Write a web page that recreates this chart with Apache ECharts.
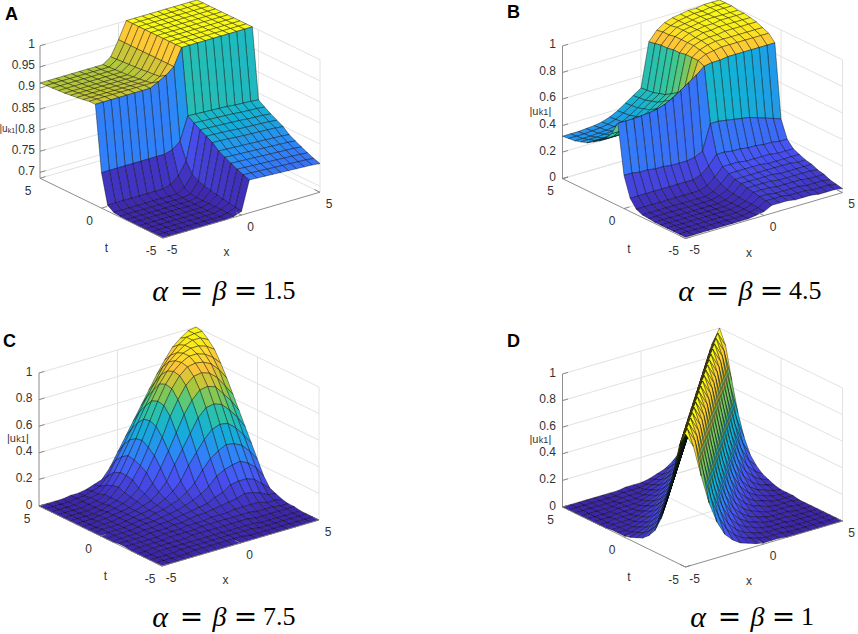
<!DOCTYPE html>
<html>
<head>
<meta charset="utf-8">
<style>html,body{margin:0;padding:0;background:#fff;}#chart{width:858px;height:634px;}</style>
<script src="https://cdn.jsdelivr.net/npm/echarts@6.0.0/dist/echarts.min.js"></script>
</head>
<body>
<div id="chart"></div>
<script>
// ---------------- data ----------------
const xs = [-5,-4.5,-4,-3.5,-3,-2.5,-2,-1.5,-1,-0.5,0,0.5,1,1.5,2,2.5,3,3.5,4,4.5,5];
const ts = [-5,-4.5,-4,-3.5,-3,-2.5,-2,-1.5,-1,-0.5,0,0.5,1,1.5,2,2.5,3,3.5,4,4.5,5];

// rows: t = -5 ... 5, columns: x = -5 ... 5
const zA = [
[.686,.686,.686,.686,.686,.686,.686,.686,.686,.688,.695,.764,.763,.762,.761,.760,.759,.758,.757,.756,.754],
[.686,.686,.686,.686,.686,.686,.686,.686,.686,.689,.697,.769,.768,.767,.766,.765,.764,.763,.762,.761,.759],
[.686,.686,.686,.686,.686,.686,.686,.686,.686,.690,.700,.775,.774,.773,.772,.771,.770,.769,.768,.767,.765],
[.686,.686,.686,.686,.686,.686,.686,.686,.686,.690,.702,.782,.781,.780,.779,.778,.777,.776,.775,.774,.772],
[.686,.686,.686,.686,.686,.686,.686,.686,.686,.690,.705,.789,.788,.787,.786,.785,.784,.783,.782,.781,.779],
[.687,.687,.687,.687,.687,.687,.687,.687,.687,.690,.708,.797,.796,.795,.794,.793,.792,.791,.790,.789,.787],
[.687,.687,.687,.687,.687,.687,.687,.687,.687,.690,.712,.810,.809,.808,.806,.805,.804,.803,.802,.801,.799],
[.688,.688,.688,.688,.688,.688,.688,.688,.688,.692,.717,.818,.817,.816,.815,.813,.812,.811,.810,.809,.807],
[.690,.690,.690,.690,.690,.690,.690,.690,.690,.700,.725,.826,.825,.824,.823,.822,.821,.819,.818,.817,.815],
[.700,.700,.700,.700,.700,.700,.700,.700,.705,.720,.750,.835,.834,.833,.832,.831,.830,.828,.827,.826,.824],
[.770,.770,.770,.770,.770,.770,.770,.770,.770,.775,.790,.845,.844,.843,.842,.841,.840,.838,.837,.836,.834],
[.925,.925,.925,.925,.925,.925,.925,.925,.935,.945,.960,1,1,1,1,1,1,1,1,1,1],
[.925,.925,.925,.925,.925,.925,.925,.925,.925,.935,.960,1,1,1,1,1,1,1,1,1,1],
[.922,.922,.922,.922,.922,.922,.922,.922,.922,.933,.960,1,1,1,1,1,1,1,1,1,1],
[.920,.920,.920,.920,.920,.920,.920,.920,.920,.932,.960,1,1,1,1,1,1,1,1,1,1],
[.918,.918,.918,.918,.918,.918,.918,.918,.918,.930,.960,1,1,1,1,1,1,1,1,1,1],
[.916,.916,.916,.916,.916,.916,.916,.916,.916,.929,.960,1,1,1,1,1,1,1,1,1,1],
[.915,.915,.915,.915,.915,.915,.915,.915,.915,.928,.960,1,1,1,1,1,1,1,1,1,1],
[.914,.914,.914,.914,.914,.914,.914,.914,.914,.927,.960,1,1,1,1,1,1,1,1,1,1],
[.913,.913,.913,.913,.913,.913,.913,.913,.913,.926,.960,1,1,1,1,1,1,1,1,1,1],
[.912,.912,.912,.912,.912,.912,.912,.912,.912,.925,.960,1,1,1,1,1,1,1,1,1,1]
];

const zB = [
[.01,.01,.01,.01,.01,.01,.01,.01,.01,.02,.03,.06,.06,.06,.05,.05,.05,.04,.04,.04,.03],
[.01,.01,.01,.01,.01,.01,.01,.01,.01,.02,.035,.07,.07,.07,.06,.06,.06,.05,.05,.05,.04],
[.01,.01,.01,.01,.01,.01,.01,.01,.01,.02,.04,.08,.08,.07,.07,.07,.07,.06,.06,.06,.05],
[.01,.01,.01,.01,.01,.01,.01,.01,.01,.02,.04,.09,.09,.09,.08,.08,.08,.08,.07,.07,.07],
[.01,.01,.01,.01,.01,.01,.01,.01,.01,.02,.045,.10,.10,.10,.10,.09,.09,.09,.09,.09,.08],
[.01,.01,.01,.01,.01,.01,.01,.01,.01,.02,.05,.11,.11,.11,.11,.11,.10,.10,.10,.10,.10],
[.015,.015,.015,.015,.015,.015,.015,.015,.015,.03,.06,.12,.12,.12,.12,.12,.12,.12,.12,.11,.11],
[.02,.02,.02,.02,.02,.02,.02,.02,.02,.04,.08,.14,.14,.14,.14,.14,.13,.13,.13,.13,.13],
[.04,.04,.04,.04,.04,.04,.04,.04,.04,.06,.11,.17,.17,.17,.16,.16,.16,.16,.15,.15,.15],
[.10,.10,.10,.10,.10,.10,.10,.10,.10,.12,.17,.24,.24,.23,.23,.22,.22,.21,.21,.20,.20],
[.25,.25,.24,.24,.23,.23,.22,.22,.22,.23,.26,.45,.45,.44,.43,.42,.41,.39,.37,.35,.33],
[.62,.62,.62,.625,.63,.64,.66,.69,.73,.77,.81,.86,.87,.87,.88,.88,.88,.88,.88,.88,.88],
[.52,.52,.52,.525,.53,.54,.56,.59,.63,.67,.71,.88,.91,.92,.93,.93,.93,.93,.93,.93,.93],
[.46,.46,.46,.465,.47,.48,.50,.53,.57,.61,.65,.88,.92,.94,.95,.95,.95,.95,.95,.95,.95],
[.42,.42,.42,.425,.43,.44,.46,.49,.53,.57,.61,.88,.93,.95,.96,.96,.97,.97,.97,.97,.97],
[.39,.39,.39,.395,.40,.41,.43,.46,.50,.54,.58,.87,.93,.95,.97,.97,.98,.98,.98,.98,.98],
[.36,.36,.36,.365,.37,.38,.40,.43,.47,.51,.55,.87,.93,.96,.97,.98,.98,.99,.99,.99,.99],
[.345,.345,.345,.35,.355,.365,.385,.415,.455,.495,.535,.86,.93,.96,.97,.98,.99,.99,.99,.99,.99],
[.33,.33,.33,.335,.34,.35,.37,.40,.44,.48,.52,.86,.92,.96,.97,.98,.99,.99,1,1,1],
[.325,.325,.325,.33,.335,.345,.365,.395,.435,.475,.515,.85,.92,.95,.97,.98,.99,.99,1,1,1],
[.32,.32,.32,.325,.33,.34,.36,.39,.43,.47,.51,.84,.91,.95,.97,.98,.99,.99,1,1,1]
];

const zC = [
[0,0,0,0,0,0,0,0,0,0,0,0,0,0,0,0,0,0,0,0,0],
[0,0,0,0,0,.01,.01,.01,.01,.01,.01,.01,0,0,0,0,0,0,0,0,0],
[0,0,0,0,.01,.01,.01,.01,.01,.01,.01,.01,.01,.01,0,0,0,0,0,0,0],
[0,0,.01,.01,.01,.01,.01,.01,.01,.01,.01,.01,.01,.01,.01,0,0,0,0,0,0],
[0,0,.01,.01,.01,.01,.01,.02,.02,.02,.02,.02,.02,.02,.02,.01,.01,.01,.01,.01,.01],
[0,.01,.01,.01,.01,.02,.02,.02,.02,.03,.03,.03,.03,.03,.03,.03,.02,.02,.02,.01,.01],
[.01,.01,.01,.01,.01,.02,.02,.02,.03,.03,.03,.04,.04,.04,.05,.05,.05,.05,.03,.03,.02],
[.01,.01,.01,.01,.02,.02,.02,.03,.03,.04,.05,.05,.06,.07,.08,.09,.11,.10,.08,.05,.04],
[0,.01,.01,.01,.02,.02,.03,.03,.04,.05,.06,.07,.08,.11,.13,.17,.18,.18,.16,.11,.06],
[0,.01,.01,.01,.02,.03,.03,.04,.05,.06,.08,.10,.13,.17,.23,.26,.28,.29,.26,.21,.13],
[0,.01,.01,.01,.02,.03,.03,.05,.06,.08,.10,.14,.19,.27,.34,.38,.41,.40,.37,.31,.23],
[0,.01,.01,.01,.02,.03,.04,.05,.07,.10,.14,.20,.30,.38,.46,.52,.54,.53,.48,.41,.33],
[0,0,.01,.01,.02,.03,.04,.06,.08,.13,.19,.30,.40,.50,.60,.66,.67,.65,.59,.52,.43],
[0,0,.01,.01,.02,.03,.04,.07,.11,.17,.27,.38,.50,.62,.71,.77,.78,.76,.69,.62,.53],
[0,0,0,.01,.02,.03,.05,.08,.13,.23,.34,.46,.60,.71,.80,.85,.86,.84,.79,.71,.63],
[0,0,0,0,.01,.03,.05,.09,.17,.26,.38,.52,.66,.77,.85,.90,.91,.90,.87,.81,.73],
[0,0,0,0,.01,.02,.05,.11,.18,.28,.41,.54,.67,.78,.86,.91,.94,.94,.92,.88,.82],
[0,0,0,0,.01,.02,.05,.10,.18,.29,.40,.53,.65,.76,.84,.90,.94,.96,.96,.94,.90],
[0,0,0,0,.01,.02,.03,.08,.16,.26,.37,.48,.59,.69,.79,.87,.92,.96,.98,.98,.95],
[0,0,0,0,.01,.01,.03,.05,.11,.21,.31,.41,.52,.62,.71,.81,.88,.94,.98,.99,.99],
[0,0,0,0,.01,.01,.02,.04,.06,.13,.23,.33,.43,.53,.63,.73,.82,.90,.95,.99,1]
];

const zD = [
[1,.89,.65,.43,.27,.16,.1,.06,.04,.02,.01,.01,.01,0,0,0,0,0,0,0,0],
[.89,1,.89,.65,.43,.27,.16,.1,.06,.04,.02,.01,.01,.01,0,0,0,0,0,0,0],
[.65,.89,1,.89,.65,.43,.27,.16,.1,.06,.04,.02,.01,.01,.01,0,0,0,0,0,0],
[.43,.65,.89,1,.89,.65,.43,.27,.16,.1,.06,.04,.02,.01,.01,.01,0,0,0,0,0],
[.27,.43,.65,.89,1,.89,.65,.43,.27,.16,.1,.06,.04,.02,.01,.01,.01,0,0,0,0],
[.16,.27,.43,.65,.89,1,.89,.65,.43,.27,.16,.1,.06,.04,.02,.01,.01,.01,0,0,0],
[.1,.16,.27,.43,.65,.89,1,.89,.65,.43,.27,.16,.1,.06,.04,.02,.01,.01,.01,0,0],
[.06,.1,.16,.27,.43,.65,.89,1,.89,.65,.43,.27,.16,.1,.06,.04,.02,.01,.01,.01,0],
[.04,.06,.1,.16,.27,.43,.65,.89,1,.89,.65,.43,.27,.16,.1,.06,.04,.02,.01,.01,.01],
[.02,.04,.06,.1,.16,.27,.43,.65,.89,1,.89,.65,.43,.27,.16,.1,.06,.04,.02,.01,.01],
[.01,.02,.04,.06,.1,.16,.27,.43,.65,.89,1,.89,.65,.43,.27,.16,.1,.06,.04,.02,.01],
[.01,.01,.02,.04,.06,.1,.16,.27,.43,.65,.89,1,.89,.65,.43,.27,.16,.1,.06,.04,.02],
[.01,.01,.01,.02,.04,.06,.1,.16,.27,.43,.65,.89,1,.89,.65,.43,.27,.16,.1,.06,.04],
[0,.01,.01,.01,.02,.04,.06,.1,.16,.27,.43,.65,.89,1,.89,.65,.43,.27,.16,.1,.06],
[0,0,.01,.01,.01,.02,.04,.06,.1,.16,.27,.43,.65,.89,1,.89,.65,.43,.27,.16,.1],
[0,0,0,.01,.01,.01,.02,.04,.06,.1,.16,.27,.43,.65,.89,1,.89,.65,.43,.27,.16],
[0,0,0,0,.01,.01,.01,.02,.04,.06,.1,.16,.27,.43,.65,.89,1,.89,.65,.43,.27],
[0,0,0,0,0,.01,.01,.01,.02,.04,.06,.1,.16,.27,.43,.65,.89,1,.89,.65,.43],
[0,0,0,0,0,0,.01,.01,.01,.02,.04,.06,.1,.16,.27,.43,.65,.89,1,.89,.65],
[0,0,0,0,0,0,0,.01,.01,.01,.02,.04,.06,.1,.16,.27,.43,.65,.89,1,.89],
[0,0,0,0,0,0,0,0,.01,.01,.01,.02,.04,.06,.1,.16,.27,.43,.65,.89,1]
];

const zTicksA = [0.7,0.75,0.8,0.85,0.9,0.95,1];
const zTicksB = [0,0.2,0.4,0.6,0.8,1];
const zTicksC = [0,0.2,0.4,0.6,0.8,1];
const zTicksD = [0,0.2,0.4,0.6,0.8,1];
const xTicks = [-5,0,5];
const tTicks = [-5,0,5];
const zLimsA = [0.686,1];
const zLimsB = [0,1];
const zLimsC = [0,1];
const zLimsD = [0,1];
const panelLetters = ['A','B','C','D'];
const paramValues = ['1.5','4.5','7.5','1'];
const parula = ['#3e26a8','#4852f4','#2e87f7','#12b1d6','#37c897','#abc739','#fec338','#f9fb15'];

// ---------------- layout & projection (MATLAB default 3-D view) ----------------
const H = 133;              // box height in px
const EX = [15.7, 4.6];     // px per unit of x (right, up)
const ET = [12.3, -6];      // px per unit of (5 - t)
const layout = [
  {ox:40,    oy:178,   fx:148, fy:290.5, lx:5,   ly:13.5, zdx:-5,   zl:{x:-40.5, y:128.2, f1:10, f2:7,   gap:8.3,  sub:2.5, end:15.4}},
  {ox:562.5, oy:178.5, fx:674, fy:290.5, lx:507, ly:12,   zdx:-6.5, zl:{x:-33,   y:110.5, f1:11, f2:9,   gap:9.3,  sub:1,   end:19}},
  {ox:39,    oy:506,   fx:148, fy:616,   lx:3,   ly:341,  zdx:-6.5, zl:{x:-32,   y:438,   f1:11, f2:9,   gap:9.3,  sub:1,   end:19}},
  {ox:562.5, oy:507,   fx:686, fy:616,   lx:507, ly:340.5,zdx:-6.5, zl:{x:-33,   y:439,   f1:11, f2:9,   gap:9.3,  sub:1,   end:19}}
];
const zData = [zA, zB, zC, zD];
const zTicks = [zTicksA, zTicksB, zTicksC, zTicksD];
const zLims = [zLimsA, zLimsB, zLimsC, zLimsD];
const TOPV = 46 + H;

function proj(k, x, t, z) {
  const lim = zLims[k];
  const f = (z - lim[0]) / (lim[1] - lim[0]);
  return [(x + 5) * EX[0] + (5 - t) * ET[0], (x + 5) * EX[1] + (5 - t) * ET[1] + f * H];
}

function buildCells(k) {
  const Z = zData[k];
  const cells = [];
  for (let i = 0; i < ts.length - 1; i++) {
    for (let j = 0; j < xs.length - 1; j++) {
      const depth = 4.6 * (xs[j] + xs[j + 1]) / 2 + 6 * (ts[i] + ts[i + 1]) / 2;
      cells.push({i: i, j: j, d: depth});
    }
  }
  cells.sort((a, b) => b.d - a.d);
  return cells.map(c => [c.i, c.j, Z[c.i][c.j]]);
}

const sans = '"Liberation Sans", Arial, Helvetica, sans-serif';
const tickFont = '12px ' + sans;
const gridCol = '#e2e2e2';
const axisCol = '#808080';

function buildDecor(k) {
  const zmin = zLims[k][0], zmax = zLims[k][1];
  const L = layout[k];
  const back = [], front = [];
  const ln = (arr, pts, c, w) => arr.push({kind: 'line', pts: pts, color: c, width: w});
  zTicks[k].forEach(z => ln(back, [[-5, 5, z], [5, 5, z], [5, -5, z]], gridCol, 1));
  xTicks.forEach(x => { if (x > -5) ln(back, [[x, 5, zmin], [x, 5, zmax]], gridCol, 1); });
  tTicks.forEach(t => { if (t < 5) ln(back, [[5, t, zmin], [5, t, zmax]], gridCol, 1); });
  xTicks.forEach(x => { if (x > -5) ln(back, [[x, -5, zmin], [x, 5, zmin]], gridCol, 1); });
  tTicks.forEach(t => { if (t > -5) ln(back, [[-5, t, zmin], [5, t, zmin]], gridCol, 1); });
  ln(back, [[-5, 5, zmin], [-5, 5, zmax]], axisCol, 0.9);
  zTicks[k].forEach(z => ln(back, [[-5, 5, z], [-4.65, 5, z]], axisCol, 0.9));
  ln(front, [[-5, 5, zmin], [-5, -5, zmin], [5, -5, zmin]], axisCol, 0.9);
  tTicks.forEach(t => ln(front, [[-5, t, zmin], [-4.65, t, zmin]], axisCol, 0.9));
  xTicks.forEach(x => ln(front, [[x, -5, zmin], [x, -4.55, zmin]], axisCol, 0.9));
  const tx = (at, dx, dy, text, align, font) => front.push({kind: 'text', at: at, dx: dx, dy: dy, text: text, align: align, font: font || tickFont});
  zTicks[k].forEach(z => tx([-5, 5, z], L.zdx, -1.5, String(z), 'right'));
  tTicks.forEach(t => tx([-5, t, zmin], -12, 12.5, String(t), 'center'));
  xTicks.forEach(x => tx([x, -5, zmin], 9, 11.5, String(x), 'center'));
  tx([-5, 0, zmin], 5, 40, 't', 'center');
  tx([0, -5, zmin], -15, 37, 'x', 'center');
  // axis title |u_{k1}|
  const Z = L.zl, dyz = Z.y - L.oy;
  tx([-5, 5, zmin], Z.x, dyz, '|u', 'left', Z.f1 + 'px ' + sans);
  tx([-5, 5, zmin], Z.x + Z.gap, dyz + Z.sub, 'k1', 'left', Z.f2 + 'px ' + sans);
  tx([-5, 5, zmin], Z.x + Z.end, dyz, '|', 'left', Z.f1 + 'px ' + sans);
  return {back: back, front: front};
}

function decorSeries(k, list, zz) {
  return {
    type: 'custom', xAxisIndex: k, yAxisIndex: k, z: zz, silent: true, animation: false, clip: false,
    data: list.map((d, i) => [i, 0]),
    renderItem: function (params, api) {
      const d = list[params.dataIndex];
      if (d.kind === 'line') {
        const pts = d.pts.map(p => api.coord(proj(k, p[0], p[1], p[2])));
        return {type: 'polyline', shape: {points: pts}, style: {stroke: d.color, lineWidth: d.width, fill: 'none'}};
      }
      const c = api.coord(proj(k, d.at[0], d.at[1], d.at[2]));
      return {type: 'text', x: c[0] + d.dx, y: c[1] + d.dy,
        style: {text: d.text, fill: '#333', font: d.font, align: d.align, textAlign: d.align, verticalAlign: 'middle', textVerticalAlign: 'middle'}};
    }
  };
}

function surfaceSeries(k) {
  return {
    type: 'custom', xAxisIndex: k, yAxisIndex: k, z: 2, silent: true, animation: false, clip: false,
    dimensions: ['i', 'j', 'z'],
    encode: {x: 0, y: 1},
    data: buildCells(k),
    renderItem: function (params, api) {
      const i = api.value(0), j = api.value(1);
      const Z = zData[k];
      const corners = [[i, j], [i, j + 1], [i + 1, j + 1], [i + 1, j]];
      const pts = corners.map(c => api.coord(proj(k, xs[c[1]], ts[c[0]], Z[c[0]][c[1]])));
      return {type: 'polygon', shape: {points: pts},
        style: {fill: api.visual('color'), stroke: 'rgba(0,0,0,0.8)', lineWidth: 0.5}};
    }
  };
}

const series = [];
const visualMaps = [];
for (let k = 0; k < 4; k++) {
  const dec = buildDecor(k);
  series.push(decorSeries(k, dec.back, 1));
  visualMaps.push({type: 'continuous', show: false, seriesIndex: series.length, dimension: 2,
    min: zLims[k][0], max: zLims[k][1], inRange: {color: parula}});
  series.push(surfaceSeries(k));
  series.push(decorSeries(k, dec.front, 3));
}

const graphics = [];
layout.forEach((L, k) => {
  graphics.push({type: 'text', x: L.lx, y: L.ly, style: {text: panelLetters[k], fill: '#000',
    font: 'bold 18px ' + sans, align: 'left', textAlign: 'left', verticalAlign: 'middle', textVerticalAlign: 'middle'}});
  const serif = '"Liberation Serif", "Times New Roman", serif';
  const parts = [
    {dx: 12, text: 'α', font: 'italic 30px ' + serif, align: 'center'},
    {dx: 43.5, text: '=', font: '28px "DejaVu Serif", serif', align: 'center'},
    {dx: 71.5, text: 'β', font: 'italic 28px ' + serif, align: 'center'},
    {dx: 97.5, text: '=', font: '28px "DejaVu Serif", serif', align: 'center'},
    {dx: 115, text: paramValues[k], font: '26px ' + serif, align: 'left'}
  ];
  parts.forEach(p => graphics.push({type: 'text', x: L.fx + p.dx, y: L.fy,
    style: {text: p.text, fill: '#000', font: p.font, align: p.align, textAlign: p.align, verticalAlign: 'middle', textVerticalAlign: 'middle'}}));
});

const option = {
  animation: false,
  grid: layout.map(L => ({left: L.ox, top: L.oy - TOPV, width: 280, height: TOPV + 60, show: false})),
  xAxis: layout.map((L, k) => ({type: 'value', gridIndex: k, min: 0, max: 280, show: false})),
  yAxis: layout.map((L, k) => ({type: 'value', gridIndex: k, min: -60, max: TOPV, show: false})),
  visualMap: visualMaps,
  series: series,
  graphic: graphics
};

const chart = echarts.init(document.getElementById('chart'), null, {renderer: 'svg', width: 858, height: 634});
chart.setOption(option);
</script>
</body>
</html>
